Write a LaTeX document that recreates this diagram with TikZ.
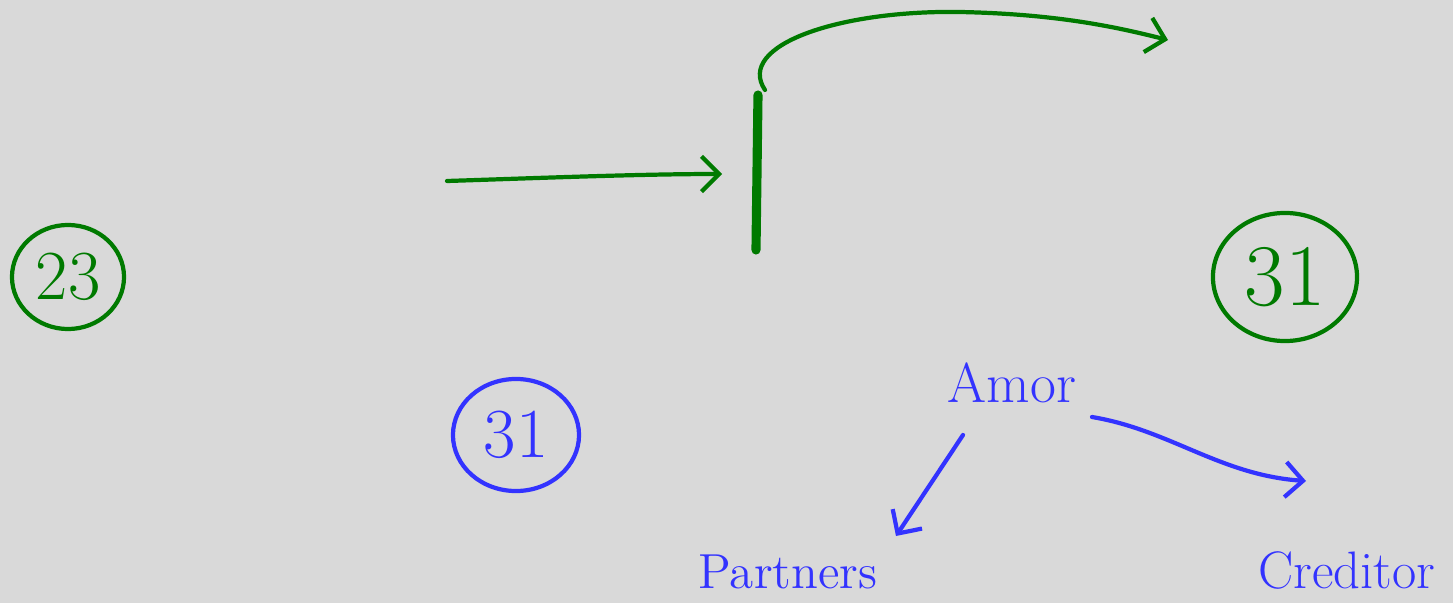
\documentclass[tikz,border=0pt]{standalone}
\usetikzlibrary{arrows.meta,shapes.geometric}
\definecolor{bg}{RGB}{217,217,217}
\definecolor{pgreen}{RGB}{0,122,0}
\definecolor{pblue}{RGB}{51,51,255}
\tikzset{
  stroke/.style={line width=1.2pt, line cap=round, line join=round},
  gline/.style={stroke, draw=pgreen},
  bline/.style={stroke, draw=pblue},
  barb/.style={-{Straight Barb[length=5pt,width=10pt,line width=1.2pt]}},
  ring/.style={ellipse, draw, line width=1.2pt, inner sep=0pt},
}
\begin{document}
\begin{tikzpicture}[x=0.01cm,y=-0.01cm]
  \fill[bg] (0,0) rectangle (1453,603);
  \useasboundingbox (0,0) rectangle (1453,603);

  % green circled numbers
  \node[ring, draw=pgreen, text=pgreen, minimum width=1.12cm, minimum height=1.04cm,
        font=\fontsize{20}{20}\selectfont] (g23) at (68,277) {23};
  \node[ring, draw=pgreen, text=pgreen, minimum width=1.44cm, minimum height=1.28cm,
        font=\fontsize{25}{25}\selectfont] (g31) at (1285,277) {31};

  % blue circled number
  \node[ring, draw=pblue, text=pblue, minimum width=1.26cm, minimum height=1.12cm,
        font=\fontsize{20}{20}\selectfont] (b31) at (516,435) {31};

  % blue words
  \node[text=pblue, font=\fontsize{16}{16}\selectfont] (amor) at (1012,383) {Amor};
  \node[text=pblue, font=\fontsize{14}{14}\selectfont] (partners) at (788,572) {Partners};
  \node[text=pblue, font=\fontsize{15}{15}\selectfont] (creditor) at (1347,570) {Creditor};

  % green arrows and bar
  \coordinate (h1) at (447,181);
  \coordinate (h2) at (722,174);
  \draw[gline, barb] (h1) .. controls (540,178) and (640,174) .. (h2);

  \coordinate (v1) at (758,95);
  \coordinate (v2) at (756,250);
  \draw[stroke, draw=pgreen, line width=2.6pt] (v1) -- (v2);

  \coordinate (c1) at (765,90);
  \coordinate (cm) at (960,12);
  \coordinate (c2) at (1168,40);
  \draw[gline, barb] (c1) .. controls (735,45) and (840,10) .. (cm)
        .. controls (1060,14) and (1120,28) .. (c2);

  % blue arrows
  \coordinate (a1) at (963,435);
  \coordinate (a2) at (896,536);
  \draw[bline, barb] (a1) -- (a2);

  \coordinate (d1) at (1092,417);
  \coordinate (d2) at (1306,481);
  \draw[bline, barb] (d1) .. controls (1170,430) and (1220,475) .. (d2);
\end{tikzpicture}
\end{document}
